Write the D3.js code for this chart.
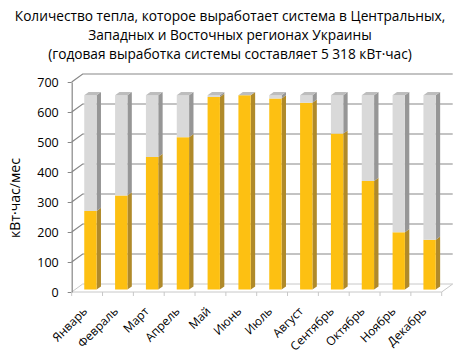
<!DOCTYPE html>
<html><head><meta charset="utf-8">
<script src="https://cdn.jsdelivr.net/npm/d3@7"></script>
<style>body{margin:0;background:#fff}svg{display:block}text{font-family:"Open Sans",sans-serif}</style>
</head><body><svg id="c" width="475" height="356"></svg>
<script>
const months = ["Январь","Февраль","Март","Апрель","Май","Июнь","Июль","Август","Сентябрь","Октябрь","Ноябрь","Декабрь"];
const produced = [262,314,442,508,642,648,637,623,520,362,191,166];
const totalNeed = [648,648,648,648,648,648,648,648,648,648,648,648];
const yTicks = [0,100,200,300,400,500,600,700];
const titleLines = ["Количество тепла, которое выработает система в Центральных,","Западных и Восточных регионах Украины","(годовая выработка системы составляет 5 318 кВт·час)"];
const yTitle = "кВт·час/мес";

const svg = d3.select("#c");
const X0 = 71.7, X1 = 441.7, DX = 11, DY = -8;
const x = d3.scaleBand().domain(months).range([X0, X1]).paddingInner(0.6).paddingOuter(0.3);
const y = d3.scaleLinear().domain([0,700]).range([292,82]);
const P = (px, v, f) => [px + DX*f, y(v) + DY*f];
const line = d3.line();
const grid = "#878787";

const g = svg.append("g");
yTicks.forEach(v => {
  if (v === 0) return;
  g.append("path").attr("d", line([P(X0,v,0), P(X0,v,1), P(X1,v,1)]))
   .attr("fill","none").attr("stroke",grid).attr("stroke-width",1.2);
});
g.append("path").attr("d", line([P(X0,0,1), P(X1,0,1), P(X1,0,0)])).attr("fill","none").attr("stroke","#c8c8c8").attr("stroke-width",1);
g.append("path").attr("d", line([P(X0,0,0), P(X0,0,1)])).attr("fill","none").attr("stroke","#c8c8c8").attr("stroke-width",1);
g.append("path").attr("d", line([P(X0,0,0), P(X1,0,0)])).attr("fill","none").attr("stroke","#c8c8c8").attr("stroke-width",1);

const ya = svg.append("g").attr("transform", `translate(${X0},0)`)
  .call(d3.axisLeft(y).tickValues(yTicks).tickSize(4).tickSizeOuter(0).tickPadding(9));
ya.select(".domain").attr("stroke", grid).attr("stroke-width",1.2);
ya.selectAll(".tick line").attr("stroke", grid);
ya.selectAll(".tick text").attr("font-size","12.5px").attr("fill","#000").attr("font-family","Open Sans");

const xa = svg.append("g").attr("transform", `translate(0,292)`)
  .call(d3.axisBottom(x).tickSize(0).tickFormat(""));
xa.select(".domain").remove();
const bounds = months.map(m => x(m) - x.step()*0.3).concat([X1]);
svg.append("g").selectAll("line").data(bounds).join("line")
  .attr("x1", d=>d).attr("x2", d=>d).attr("y1",292).attr("y2",296).attr("stroke","#c8c8c8");

const F0 = 0.3, F1 = 0.7;
const bw = x.bandwidth();
const bars = svg.append("g");
months.forEach((m, i) => {
  const bx = x(m);
  const segs = [[0, produced[i], "#FDC012", "#B08A2A"], [produced[i], totalNeed[i], "#D9D9D9", "#969696"]];
  segs.forEach(([a, b, cf, cs]) => {
    if (b - a <= 0) return;
    bars.append("path").attr("d", line([P(bx+bw,a,F0), P(bx+bw,a,F1), P(bx+bw,b,F1), P(bx+bw,b,F0)]) + "Z").attr("fill", cs);
    bars.append("path").attr("d", line([P(bx,a,F0), P(bx+bw,a,F0), P(bx+bw,b,F0), P(bx,b,F0)]) + "Z").attr("fill", cf);
  });
  const t = totalNeed[i];
  bars.append("path").attr("d", line([P(bx,t,F0), P(bx+bw,t,F0), P(bx+bw,t,F1), P(bx,t,F1)]) + "Z").attr("fill", "#bdbdbd");
});

svg.append("g").selectAll("text").data(months).join("text")
  .attr("transform", d => `translate(${x(d) + bw/2 + 1},312) rotate(-45)`)
  .attr("text-anchor","end").attr("font-size","12px").attr("fill","#000").text(d=>d);

const yt = svg.append("text").attr("transform","translate(20,198) rotate(-90)").attr("text-anchor","middle")
  .attr("font-size","13px").attr("fill","#000").text(yTitle);
yt.attr("font-size", (13 * 80 / yt.node().getComputedTextLength()) + "px");

const tb = [20.5, 39.5, 58.5];
const tt = svg.append("g");
const t0 = tt.append("text").attr("x",230).attr("y",tb[0]).attr("text-anchor","middle").attr("font-size","14px").text(titleLines[0]);
const fs = 14 * 431 / t0.node().getComputedTextLength();
t0.attr("font-size", fs + "px");
titleLines.slice(1).forEach((s, k) => {
  tt.append("text").attr("x",230).attr("y",tb[k+1]).attr("text-anchor","middle").attr("font-size", fs + "px").text(s);
});
tt.selectAll("text").attr("fill","#000");
</script></body></html>
